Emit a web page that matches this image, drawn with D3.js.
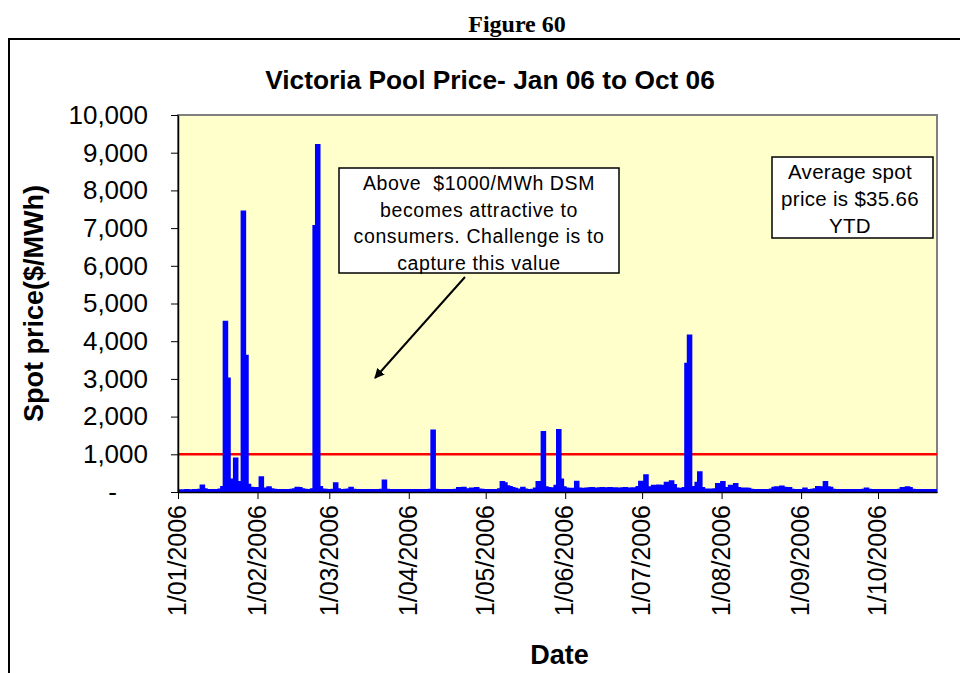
<!DOCTYPE html>
<html>
<head>
<meta charset="utf-8">
<script src="https://cdn.jsdelivr.net/npm/d3@7"></script>
<style>
  html, body { margin: 0; padding: 0; background: #ffffff; }
  svg { display: block; }
</style>
</head>
<body>
<svg id="chart" width="960" height="673"></svg>
<script>
// ---- Data (daily spot price, $/MWh) ----
const startDate = "2006-01-01";
const priceJan = [35,30,32,38,35,33,40,36,45,160,60,40,38,35,42,38,50,120,4500,3000,320,300,875,200,250,7430,3600,180,100,90,80];
const priceFeb = [90,380,80,50,110,60,45,40,40,38,42,40,38,45,60,100,95,60,45,40,42,60,7040,9190,120,50,45,40];
const priceMar = [40,45,220,60,42,40,45,50,100,45,40,38,40,42,40,38,40,42,40,38,45,290,45,40,38,40,42,40,38,40,42];
const priceApr = [40,38,40,42,40,38,40,42,45,1620,45,40,38,40,42,40,38,40,45,90,70,100,60,45,80,60,90,55,45,40];
const priceMay = [40,38,40,42,40,60,250,220,140,120,90,70,45,50,100,50,42,40,45,80,250,180,1580,110,90,80,85,150,1630,320,110];
const priceJun = [80,70,65,70,257,80,75,70,80,85,90,80,75,85,90,80,85,90,80,85,75,80,85,90,80,75,85,80,120,257];
const priceJul = [100,430,110,100,150,140,160,150,130,230,160,273,170,80,70,75,90,3390,4140,120,90,230,513,90,50,45,50,48,60,200,120];
const priceAug = [250,90,80,150,90,200,90,80,70,80,75,45,40,42,40,38,40,42,40,50,100,110,90,130,100,95,90,45,40,42,40];
const priceSep = [40,80,42,40,45,60,120,110,60,250,110,100,45,40,42,40,38,40,42,40,38,40,42,40,45,80,45,40,42,40];
const priceOct = [40,38,40,42,40,38,40,42,45,90,95,110,90,45,40,42,40,38,40,42,40,38,40,40];

const yTicks = [0,1000,2000,3000,4000,5000,6000,7000,8000,9000,10000];
const xTickLabels = ["1/01/2006","1/02/2006","1/03/2006","1/04/2006","1/05/2006","1/06/2006","1/07/2006","1/08/2006","1/09/2006","1/10/2006"];
const dsmThreshold = 1000;
const endDate = "2006-10-24";

const chartTitle = "Victoria Pool Price- Jan 06 to Oct 06";
const figureTitle = "Figure 60";
const yTitle = "Spot price($/MWh)";
const xTitle = "Date";
const noteLines = ["Above  $1000/MWh DSM", "becomes attractive to", "consumers. Challenge is to", "capture this value"];
const avgLines = ["Average spot", "price is $35.66", "YTD"];

// ---- Build series ----
const parse = d3.timeParse("%Y-%m-%d");
const parseTick = d3.timeParse("%d/%m/%Y");
const allPrices = [].concat(priceJan, priceFeb, priceMar, priceApr, priceMay, priceJun, priceJul, priceAug, priceSep, priceOct);
const t0 = parse(startDate);
const series = allPrices.map((v, i) => ({ date: d3.timeDay.offset(t0, i), value: v }));
const tickDates = xTickLabels.map(s => parseTick(s));

// ---- Layout ----
const svg = d3.select("#chart");
const plot = { left: 178, right: 937, top: 115, bottom: 492 };
const sans = "'Liberation Sans', Arial, sans-serif";

const x = d3.scaleTime().domain([t0, parse(endDate)]).range([plot.left, plot.right]);
const y = d3.scaleLinear().domain([0, 10000]).range([plot.bottom, plot.top]);

// Outer frame (top and left lines)
svg.append("path")
  .attr("d", "M9,673 L9,39 L960,39")
  .attr("fill", "none").attr("stroke", "#000").attr("stroke-width", 2);

// Figure caption
svg.append("text")
  .attr("x", 517).attr("y", 32)
  .attr("text-anchor", "middle")
  .attr("font-family", "'Liberation Serif', 'Times New Roman', serif")
  .attr("font-weight", "bold").attr("font-size", 24)
  .text(figureTitle);

// Chart title
svg.append("text")
  .attr("x", 490).attr("y", 89)
  .attr("text-anchor", "middle")
  .attr("font-family", sans)
  .attr("font-weight", "bold").attr("font-size", 26.3)
  .text(chartTitle);

// Plot background
svg.append("rect")
  .attr("x", plot.left).attr("y", plot.top)
  .attr("width", plot.right - plot.left).attr("height", plot.bottom - plot.top)
  .attr("fill", "#FFFFCC").attr("stroke", "#808080").attr("stroke-width", 2);

// Red threshold line
svg.append("line")
  .attr("x1", plot.left).attr("x2", plot.right)
  .attr("y1", y(dsmThreshold)).attr("y2", y(dsmThreshold))
  .attr("stroke", "#FF0000").attr("stroke-width", 2.5);

// Price: solid fill under the step curve plus thick outline
const area = d3.area().x(d => x(d.date)).y0(y(0)).y1(d => y(d.value)).curve(d3.curveStepAfter);
svg.append("path")
  .datum(series)
  .attr("d", area)
  .attr("fill", "#0000FF");
const line = d3.line().x(d => x(d.date)).y(d => y(d.value)).curve(d3.curveStepAfter);
svg.append("path")
  .datum(series)
  .attr("d", line)
  .attr("fill", "none").attr("stroke", "#0000FF")
  .attr("stroke-width", 3).attr("stroke-linejoin", "miter");

// Y axis
const yAxis = svg.append("g")
  .attr("transform", `translate(${plot.left},0)`)
  .call(d3.axisLeft(y).tickValues(yTicks).tickSize(7).tickSizeOuter(0).tickPadding(23)
    .tickFormat(d => d === 0 ? "-" : d3.format(",")(d)));
yAxis.select(".domain").attr("stroke", "#000").attr("stroke-width", 1.5);
yAxis.selectAll(".tick line").attr("stroke", "#000");
yAxis.selectAll("text")
  .attr("font-family", sans)
  .attr("font-size", 26).attr("fill", "#000");
yAxis.selectAll(".tick").filter(d => d === 0).select("text").attr("x", -61);

// X axis
const xAxis = svg.append("g")
  .attr("transform", `translate(0,${plot.bottom})`)
  .call(d3.axisBottom(x).tickValues(tickDates).tickSize(7).tickSizeOuter(0)
    .tickFormat((d, i) => xTickLabels[i]));
xAxis.select(".domain").attr("stroke", "#000").attr("stroke-width", 1.5);
xAxis.selectAll(".tick line").attr("stroke", "#000");
xAxis.selectAll("text")
  .attr("font-family", sans)
  .attr("font-size", 25).attr("fill", "#000")
  .attr("text-anchor", "end")
  .attr("x", 0).attr("y", 0).attr("dy", "0.35em")
  .attr("transform", "translate(-1,13) rotate(-90)");

// Axis titles
svg.append("text")
  .attr("x", (plot.left + plot.right) / 2 + 2).attr("y", 664)
  .attr("text-anchor", "middle")
  .attr("font-family", sans)
  .attr("font-weight", "bold").attr("font-size", 27)
  .text(xTitle);
svg.append("text")
  .attr("transform", `translate(43,${(plot.top + plot.bottom) / 2}) rotate(-90)`)
  .attr("text-anchor", "middle")
  .attr("font-family", sans)
  .attr("font-weight", "bold").attr("font-size", 27)
  .text(yTitle);

// Annotation box: DSM note
const note = svg.append("g");
note.append("rect")
  .attr("x", 339).attr("y", 168).attr("width", 280).attr("height", 105)
  .attr("fill", "#fff").attr("stroke", "#000").attr("stroke-width", 1.5);
note.selectAll("text").data(noteLines).join("text")
  .attr("x", 479).attr("y", (d, i) => 190 + i * 26.5)
  .attr("text-anchor", "middle")
  .attr("font-family", sans)
  .attr("font-size", 19.5)
  .attr("letter-spacing", 0.6)
  .style("white-space", "pre")
  .text(d => d);

// Arrow
svg.append("defs").append("marker")
  .attr("id", "arrowhead").attr("viewBox", "0 0 10 10")
  .attr("refX", 9).attr("refY", 5)
  .attr("markerWidth", 5).attr("markerHeight", 5)
  .attr("orient", "auto")
  .append("path").attr("d", "M0,0 L10,5 L0,10 z").attr("fill", "#000");
svg.append("line")
  .attr("x1", 465).attr("y1", 277).attr("x2", 375).attr("y2", 378)
  .attr("stroke", "#000").attr("stroke-width", 2)
  .attr("marker-end", "url(#arrowhead)");

// Annotation box: average
const avg = svg.append("g");
avg.append("rect")
  .attr("x", 772).attr("y", 157).attr("width", 161).attr("height", 81)
  .attr("fill", "#fff").attr("stroke", "#000").attr("stroke-width", 1.5);
avg.selectAll("text").data(avgLines).join("text")
  .attr("x", 850).attr("y", (d, i) => 179 + i * 27)
  .attr("text-anchor", "middle")
  .attr("font-family", sans)
  .attr("font-size", 20.5)
  .attr("letter-spacing", 0.3)
  .text(d => d);
</script>
</body>
</html>
